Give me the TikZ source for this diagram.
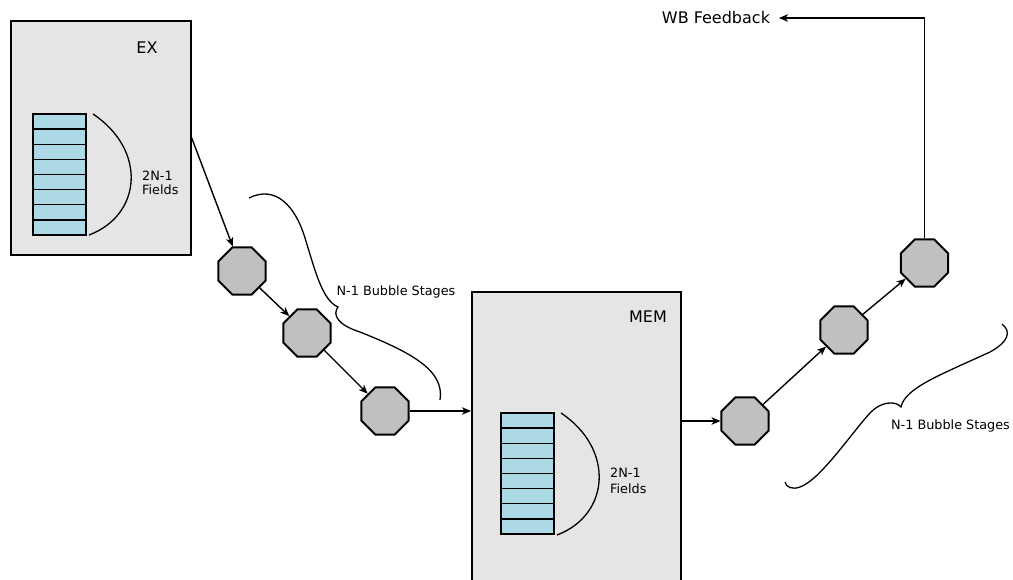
\documentclass[tikz,border=0pt]{standalone}
\usepackage{fontspec}
\setmainfont{DejaVu Sans}
\usetikzlibrary{shapes.geometric,arrows.meta,calc}
\definecolor{boxgray}{HTML}{E5E5E5}
\definecolor{fieldblue}{HTML}{ADD8E6}
\definecolor{stagegray}{HTML}{C0C0C0}
\tikzset{
  unitbox/.style={draw=black, fill=boxgray, line width=1.7pt, inner sep=0pt, anchor=north west},
  fieldrow/.style={draw=black, fill=fieldblue, line width=1.4pt},
  stage/.style={regular polygon, regular polygon sides=8, draw=black, fill=stagegray,
                line width=1.9pt, minimum size=51pt, inner sep=0pt},
  flow/.style={line width=1.4pt, -{Stealth[length=9pt,width=7.5pt,inset=2.5pt]}},
  brace/.style={line width=1.3pt},
  biglabel/.style={font=\fontsize{16}{19}\selectfont, inner sep=0pt},
  smalllabel/.style={inner sep=0pt, align=left},
}
\begin{document}
\begin{tikzpicture}[x=1pt, y=-1pt]
  \useasboundingbox (0,0) rectangle (1013,579);
  \clip (0,0) rectangle (1013,579);

  % pipeline units
  \node[unitbox, minimum width=180pt, minimum height=234pt] (ex) at (10,20) {};
  \node[unitbox, minimum width=209pt, minimum height=320pt] (mem) at (471,291) {};
  \node[biglabel] (exlabel) at (147,48) {EX};
  \node[biglabel] (memlabel) at (648,317) {MEM};

  % field stacks
  \foreach \i in {0,...,7} {
    \draw[fieldrow] (33,{114+15.125*\i}) rectangle ++(53,15.125);
    \draw[fieldrow] (501,{413+15.125*\i}) rectangle ++(53,15.125);
  }
  \draw[brace] (93,114) .. controls (147,150) and (142,215) .. (89,235);
  \draw[brace] (561,413) .. controls (615,449) and (610,515) .. (557,535);
  \node[smalllabel, anchor=west, font=\fontsize{12.8}{14.4}\selectfont] (exfields) at (142,183) {2N-1\\Fields};
  \node[smalllabel, anchor=west, font=\fontsize{12.8}{16}\selectfont] (memfields) at (610,481) {2N-1\\Fields};

  % bubble stages
  \node[stage] (s1) at (242,271) {};
  \node[stage] (s2) at (307,333) {};
  \node[stage] (s3) at (385,411) {};
  \node[stage] (s4) at (745,421) {};
  \node[stage] (s5) at (844,330) {};
  \node[stage] (s6) at (924.5,263) {};

  \draw[flow] (ex.east) -- (s1);
  \draw[flow] (s1) -- (s2);
  \draw[flow] (s2) -- (s3);
  \draw[flow] (s3) -- (s3 -| mem.west);
  \draw[flow] (s4 -| mem.east) -- (s4);
  \draw[flow] (s4) -- (s5);
  \draw[flow] (s5) -- (s6);

  % write-back feedback
  \node[biglabel, anchor=east, outer xsep=9pt] (wb) at (779,18) {WB Feedback};
  \draw[flow] (s6.north) |- (wb.east);

  % braces over the bubble stages
  \draw[brace] (249,198) .. controls (275,185) and (295,205) .. (305,238)
               .. controls (315,270) and (322,300) .. (338,307)
               .. controls (332,315) and (338,325) .. (360,332)
               .. controls (410,352) and (445,370) .. (440,400);
  \node[smalllabel, font=\fontsize{12.8}{15}\selectfont] (bubble1) at (396,292) {N-1 Bubble Stages};

  \draw[brace] (1002,324) .. controls (1012,332) and (1008,342) .. (990,352)
               .. controls (940,375) and (905,388) .. (901,407)
               .. controls (895,400) and (880,402) .. (870,413)
               .. controls (850,435) and (820,480) .. (800,487)
               .. controls (792,490) and (786,487) .. (785,482);
  \node[smalllabel, font=\fontsize{12.8}{15}\selectfont] (bubble2) at (950.5,426) {N-1 Bubble Stages};
\end{tikzpicture}
\end{document}
